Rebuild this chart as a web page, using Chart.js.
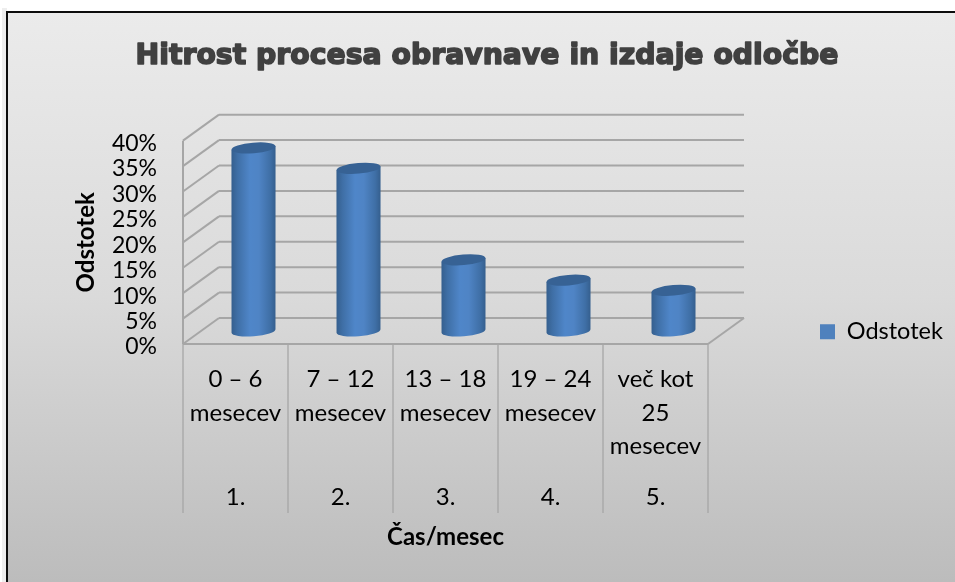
<!DOCTYPE html>
<html>
<head>
<meta charset="utf-8">
<style>html,body{margin:0;padding:0;background:#fff}canvas{display:block}</style>
<script src="https://cdn.jsdelivr.net/npm/chart.js@4/dist/chart.umd.min.js"></script>
</head>
<body>
<div style="width:955px;height:582px"><canvas id="c" width="955" height="582"></canvas></div>
<script>
const categoryLabels = [['0 – 6','mesecev'],['7 – 12','mesecev'],['13 – 18','mesecev'],['19 – 24','mesecev'],['več kot','25','mesecev']];
const levelLabels = ['1.','2.','3.','4.','5.'];
const seriesName = 'Odstotek';
const seriesValues = [36, 32, 14, 10, 8];
const titleText = 'Hitrost procesa obravnave in izdaje odločbe';
const yTitle = 'Odstotek';
const xTitle = 'Čas/mesec';

const DX = 36, DY = -26;
const GRID = '#a6a6a6';
const TEXT_FONT = 'Lato';

function line(ctx, x1, y1, x2, y2) { ctx.beginPath(); ctx.moveTo(x1, y1); ctx.lineTo(x2, y2); ctx.stroke(); }

const scene = {
  id: 'scene',
  beforeDraw(chart) {
    const ctx = chart.ctx, W = chart.width, H = chart.height;
    ctx.save();
    ctx.fillStyle = '#fff'; ctx.fillRect(0, 0, W, H);
    ctx.fillStyle = '#eeeeee'; ctx.fillRect(2, 8, 5, H - 8);
    const g = ctx.createLinearGradient(0, 12, 0, H);
    g.addColorStop(0, '#ebebeb'); g.addColorStop(0.5, '#dadada'); g.addColorStop(1, '#bcbcbc');
    ctx.fillStyle = g; ctx.fillRect(7, 12, W - 7, H - 12);
    ctx.fillStyle = '#0c0c0c';
    ctx.fillRect(6, 11, W - 6, 2);
    ctx.fillRect(6, 11, 2, H - 11);
    ctx.restore();
  },
  beforeDatasetsDraw(chart) {
    const ctx = chart.ctx, x = chart.scales.x, y = chart.scales.y;
    const L = x.left, R = x.right;
    ctx.save();
    ctx.strokeStyle = GRID; ctx.lineWidth = 2;
    // back wall and left wall, one pair of lines per tick of the value axis
    y.ticks.forEach(t => {
      const p = y.getPixelForValue(t.value);
      line(ctx, L + DX, p + DY, R + DX, p + DY);
      line(ctx, L, p, L + DX, p + DY);
    });
    // front edge, right floor edge, vertical axis
    line(ctx, L, y.bottom, R, y.bottom);
    line(ctx, R, y.bottom, R + DX, y.bottom + DY);
    line(ctx, L, y.top, L, y.bottom);
    // category separators
    ctx.lineWidth = 1.3;
    const bottom = chart.scales.x2.top + 33;
    for (let i = 0; i <= categoryLabels.length; i++) {
      const px = x.getPixelForValue(i - 0.5);
      line(ctx, px, y.bottom, px, bottom);
    }
    ctx.restore();
  },
  beforeDatasetDraw(chart, args) {
    const ctx = chart.ctx, meta = chart.getDatasetMeta(args.index);
    const tilt = -0.085;
    meta.data.forEach(bar => {
      const cx = bar.x + DX / 2, top = bar.y + DY / 2, base = bar.base + DY / 2;
      const rx = bar.width / 2, ry = 5.3;
      const g = ctx.createLinearGradient(cx - rx, 0, cx + rx, 0);
      g.addColorStop(0, '#355f8e'); g.addColorStop(0.14, '#3f6fa6');
      g.addColorStop(0.42, '#4f86c9'); g.addColorStop(0.62, '#4f84c5');
      g.addColorStop(0.88, '#3f6fa6'); g.addColorStop(1, '#355f8e');
      const dy = rx * Math.sin(tilt);
      ctx.save();
      ctx.fillStyle = g;
      ctx.beginPath();
      ctx.ellipse(cx, base, rx, ry, tilt, 0, Math.PI);
      ctx.lineTo(cx - rx, top - dy);
      ctx.lineTo(cx + rx, top + dy);
      ctx.closePath();
      ctx.fill();
      ctx.fillStyle = '#376294';
      ctx.beginPath();
      ctx.ellipse(cx, top, rx, ry, tilt, 0, Math.PI * 2);
      ctx.fill();
      ctx.restore();
    });
    return false;
  },
  afterLayout(chart) {
    // legend placed to the right of the plot, outside the layout flow
    const lg = chart.legend;
    lg.left = 820; lg.top = 320; lg.right = 955; lg.bottom = 350;
    lg.width = 135; lg.height = 30;
    // title centred over the whole frame, heavier than the available font
    const tb = chart.titleBlock;
    tb.left = 87; tb.right = 887; tb.width = 800;
    if (!tb._heavy) {
      tb._heavy = true;
      const draw = tb.draw;
      tb.draw = function () {
        const ctx = this.ctx;
        ctx.save();
        const fill = ctx.fillText;
        ctx.lineJoin = 'round';
        ctx.fillText = function (t, px, py, m) {
          this.lineWidth = 1.6; this.strokeStyle = this.fillStyle;
          this.strokeText(t, px, py, m);
          fill.call(this, t, px, py, m);
        };
        draw.call(this);
        delete ctx.fillText;
        ctx.restore();
      };
    }
    // value labels sit slightly below their grid lines, as in the reference
    chart.scales.y.getLabelItems(chart.chartArea).forEach(i => { i.options.translation[1] += 3; });
  }
};

new Chart(document.getElementById('c'), {
  type: 'bar',
  data: {
    labels: categoryLabels,
    datasets: [{ label: seriesName, data: seriesValues, backgroundColor: '#4f81bd', borderWidth: 0,
      categoryPercentage: 1, barPercentage: 0.42 }]
  },
  plugins: [scene],
  options: {
    responsive: false,
    animation: false,
    layout: { padding: { left: 72, right: 247, top: 0, bottom: 0 } },
    plugins: {
      tooltip: { enabled: false },
      title: {
        display: true, text: titleText, color: '#404040',
        font: { family: 'DejaVu Sans', weight: 'bold', size: 28.3, lineHeight: 1.2 },
        padding: { top: 40, bottom: 66.7 }
      },
      legend: {
        position: 'chartArea', align: 'start',
        labels: { boxWidth: 15, boxHeight: 15, padding: 0, color: '#000',
          font: { family: TEXT_FONT, size: 23.5 } }
      }
    },
    scales: {
      y: {
        min: 0, max: 40,
        grid: { display: false, drawTicks: false }, border: { display: false },
        ticks: { stepSize: 5, autoSkip: false, padding: 26, color: '#000',
          font: { family: TEXT_FONT, size: 23 }, callback: v => v + '%' },
        title: { display: true, text: yTitle, color: '#000', padding: 0,
          font: { family: TEXT_FONT, size: 24, weight: 'bold', lineHeight: 1.2 } },
        afterFit(s) { s.width = 111; }
      },
      x: {
        weight: 1, offset: true,
        grid: { display: false, drawTicks: false }, border: { display: false },
        ticks: { autoSkip: false, maxRotation: 0, minRotation: 0, padding: 19, color: '#000',
          font: { family: TEXT_FONT, size: 24, lineHeight: 1.39 } },
        afterFit(s) { s.height = 136; }
      },
      x2: {
        type: 'category', position: 'bottom', weight: 2, offset: true, labels: levelLabels,
        grid: { display: false, drawTicks: false }, border: { display: false },
        ticks: { autoSkip: false, maxRotation: 0, padding: 3, color: '#000',
          font: { family: TEXT_FONT, size: 24 } },
        title: { display: true, text: xTitle, color: '#000', padding: { top: 0, bottom: 30 },
          font: { family: TEXT_FONT, size: 24, weight: 'bold', lineHeight: 1.2 } },
        afterFit(s) { s.height = 102; }
      }
    }
  }
});
</script>
</body>
</html>
